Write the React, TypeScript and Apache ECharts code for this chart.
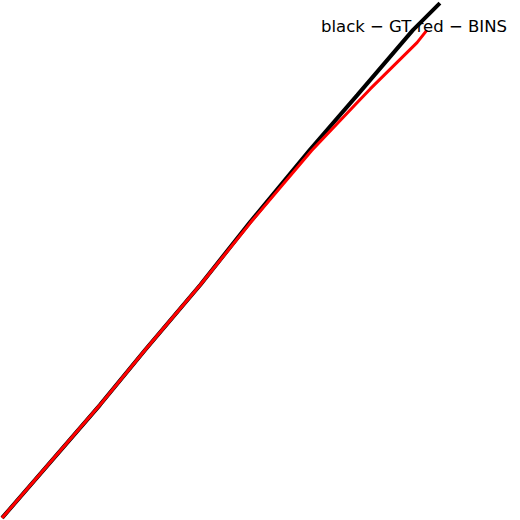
import React, { useEffect, useRef } from "react";
import * as echarts from "echarts";

const gtX = [0.004, 0.192, 0.279, 0.385, 0.481, 0.596, 0.687, 0.794, 0.846];
const gtY = [0.004, 0.221, 0.327, 0.452, 0.573, 0.712, 0.817, 0.942, 0.994];
const binsX = [0.004, 0.192, 0.279, 0.385, 0.481, 0.599, 0.688, 0.712, 0.802, 0.821];
const binsY = [0.004, 0.221, 0.327, 0.452, 0.571, 0.710, 0.804, 0.829, 0.918, 0.942];
const legendText = "black \u2212 GT red \u2212 BINS";

export default function App() {
  const ref = useRef<HTMLDivElement>(null);
  useEffect(() => {
    document.body.style.margin = "0";
    const chart = echarts.init(ref.current!, null, { renderer: "svg" });
    chart.setOption({
      animation: false,
      backgroundColor: "#ffffff",
      grid: { left: 0, right: 0, top: 0, bottom: 0 },
      xAxis: { type: "value", min: 0, max: 1, show: false },
      yAxis: { type: "value", min: 0, max: 1, show: false },
      title: {
        text: legendText,
        left: 316,
        top: 13,
        textStyle: { fontFamily: "DejaVu Sans", fontWeight: "normal", fontSize: 16.5, color: "#000" },
      },
      series: [
        {
          name: "GT",
          type: "line",
          data: gtX.map((x, i) => [x, gtY[i]]),
          showSymbol: false,
          lineStyle: { color: "#000000", width: 4 },
        },
        {
          name: "BINS",
          type: "line",
          data: binsX.map((x, i) => [x, binsY[i]]),
          showSymbol: false,
          lineStyle: { color: "#ff0000", width: 3 },
        },
      ],
    });
    return () => chart.dispose();
  }, []);
  return <div ref={ref} style={{ width: 520, height: 520 }} />;
}
